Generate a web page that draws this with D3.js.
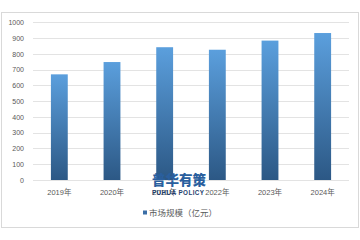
<!DOCTYPE html>
<html><head><meta charset="utf-8">
<script src="https://cdn.jsdelivr.net/npm/d3@7"></script>
<style>body{margin:0;background:#fff}svg{display:block}</style>
</head><body>
<script>
const categories = ["2019年","2020年","2021年","2022年","2023年","2024年"];
const values = [670, 748, 842, 826, 884, 932];
const yTicks = [0,100,200,300,400,500,600,700,800,900,1000];
const seriesName = "市场规模（亿元）";

(function(){
const W = 360, H = 240;
const svg = d3.select("body").append("svg").attr("width", W).attr("height", H);
const font = "'Liberation Sans', 'Noto Sans CJK SC', sans-serif";

svg.append("rect").attr("x",1.5).attr("y",12.5).attr("width",357).attr("height",215)
  .attr("fill","#fff").attr("stroke","#d9d9d9");

const defs = svg.append("defs");
const g1 = defs.append("linearGradient").attr("id","bg").attr("x1",0).attr("y1",0).attr("x2",0).attr("y2",1);
g1.append("stop").attr("offset","0%").attr("stop-color","#5b9fdd");
g1.append("stop").attr("offset","100%").attr("stop-color","#2c5885");

const pl = 33, pr = 349, pt = 22.3, pb = 180;
const x = d3.scaleBand().domain(categories).range([pl, pr]).paddingInner(0.68).paddingOuter(0.34);
const y = d3.scaleLinear().domain([0, 1000]).range([pb, pt]);

const grid = svg.append("g");
grid.selectAll("line").data(yTicks).join("line")
  .attr("x1", pl).attr("x2", pr)
  .attr("y1", d => Math.round(y(d)) + 0.5).attr("y2", d => Math.round(y(d)) + 0.5)
  .attr("stroke", "#e3e3e3");

const yAxis = svg.append("g").attr("transform", `translate(${pl},0)`)
  .call(d3.axisLeft(y).tickValues(yTicks).tickFormat(d3.format("d")).tickSize(0).tickPadding(9));
yAxis.select(".domain").remove();
yAxis.selectAll("text").attr("fill","#595959").style("font-family",font).style("font-size","7px");

svg.append("g").selectAll("rect").data(values).join("rect")
  .attr("x", (d,i) => x(categories[i]))
  .attr("width", x.bandwidth())
  .attr("y", d => y(d))
  .attr("height", d => pb - y(d))
  .attr("fill", "url(#bg)");

const xAxis = svg.append("g").attr("transform", `translate(0,${pb})`)
  .call(d3.axisBottom(x).tickSize(0).tickPadding(10));
xAxis.select(".domain").remove();
xAxis.selectAll("text").attr("fill","#595959").style("font-family",font).style("font-size","7.5px");

// watermark
svg.append("text").attr("x",179).attr("y",184.5).attr("text-anchor","middle")
  .attr("fill","#2a5f9e").style("font-family","'Noto Sans CJK SC', sans-serif")
  .style("font-weight","900").style("font-size","13.5px").text("普华有策");
svg.append("text").attr("x",152).attr("y",195)
  .attr("fill","#1f3f6e").style("font-family","'Liberation Sans', sans-serif")
  .style("font-weight","bold").style("font-size","6.3px").attr("textLength",52).text("PUHUA POLICY");

// legend
svg.append("rect").attr("x",143).attr("y",210.5).attr("width",4).attr("height",4).attr("fill","#3b6ea6");
svg.append("text").attr("x",149).attr("y",215.8).attr("fill","#595959")
  .style("font-family","'Noto Sans CJK SC', sans-serif").style("font-size","8.5px").text(seriesName);
})();
</script>
</body></html>
